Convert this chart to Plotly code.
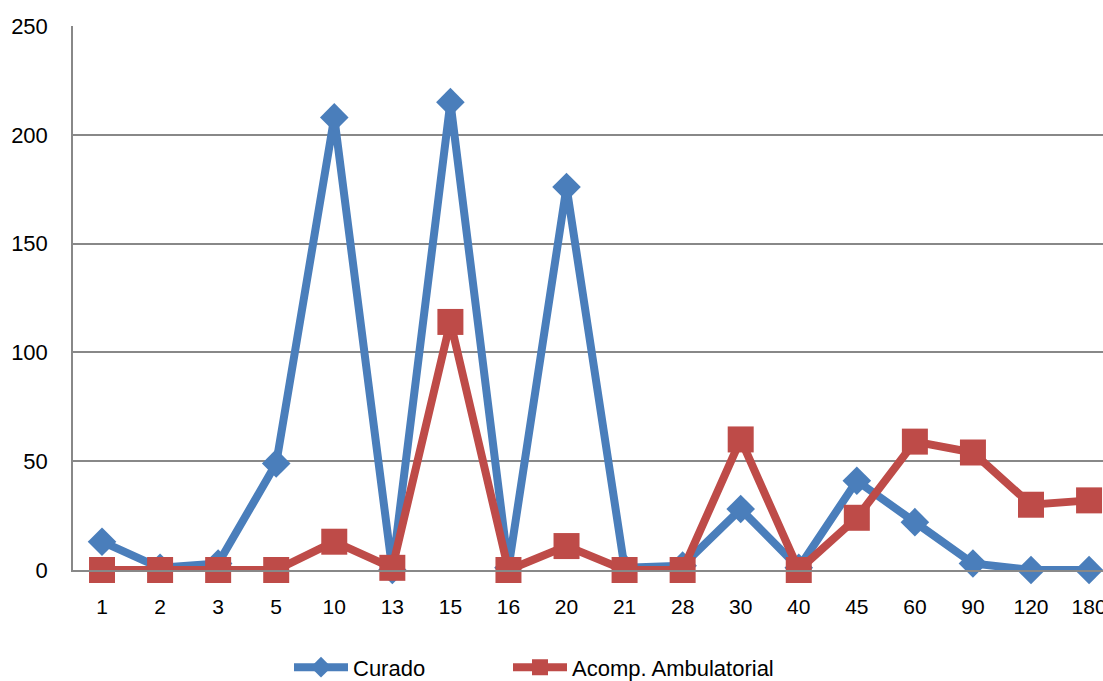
import plotly.graph_objects as go

categories = ["1", "2", "3", "5", "10", "13", "15", "16", "20", "21", "28", "30", "40", "45", "60", "90", "120", "180"]
curado = [13, 1, 3, 49, 208, 0, 215, 1, 176, 1, 2, 28, 1, 41, 22, 3, 0, 0]
acomp = [0, 0, 0, 0, 13, 1, 114, 0, 11, 0, 0, 60, 0, 24, 59, 54, 30, 32]
y_ticks = [0, 50, 100, 150, 200, 250]

BLUE = "#4A7EBB"
RED = "#BE4B48"
GRID = "#888888"
FONT = "Liberation Sans, Arial, sans-serif"

fig = go.Figure()
fig.add_trace(go.Scatter(
    x=list(range(len(categories))), y=curado, name="Curado", mode="lines+markers",
    line=dict(color=BLUE, width=8),
    marker=dict(symbol="diamond", size=22, color=BLUE),
    cliponaxis=False, legend="legend",
))
fig.add_trace(go.Scatter(
    x=list(range(len(categories))), y=acomp, name="Acomp. Ambulatorial", mode="lines+markers",
    line=dict(color=RED, width=8),
    marker=dict(symbol="square", size=26, color=RED),
    cliponaxis=False, legend="legend2",
))

leg_common = dict(orientation="h", xref="paper", yref="paper", xanchor="left",
                  y=-0.179, yanchor="middle", font=dict(size=22),
                  itemwidth=54, bgcolor="rgba(0,0,0,0)", borderwidth=0)

fig.update_layout(
    width=1103, height=681,
    margin=dict(l=73, r=0, t=26, b=111, autoexpand=False),
    paper_bgcolor="white", plot_bgcolor="white",
    font=dict(family=FONT, size=22, color="black"),
    showlegend=True,
    legend=dict(x=(289 - 73) / 1030, **leg_common),
    legend2=dict(x=(508 - 73) / 1030, **leg_common),
)
fig.update_xaxes(
    range=[-0.5, 17.24], tickmode="array", automargin=False,
    tickvals=list(range(len(categories))), ticktext=categories,
    ticklabeloverflow="allow",
    showgrid=False, zeroline=False, showline=True, linecolor=GRID, linewidth=1.5,
    ticks="", ticklabelstandoff=17, tickfont=dict(size=21),
)
fig.update_yaxes(
    range=[0, 250], tickvals=y_ticks, automargin=False,
    showgrid=True, gridcolor=GRID, gridwidth=1.5,
    zeroline=False, showline=True, linecolor=GRID, linewidth=1.5,
    ticks="", ticklabelstandoff=19, tickfont=dict(size=22),
)

fig.write_html(
    "out.html",
    config={"displayModeBar": False},
    post_script="document.body.style.margin='0';document.body.style.overflow='hidden';",
)
